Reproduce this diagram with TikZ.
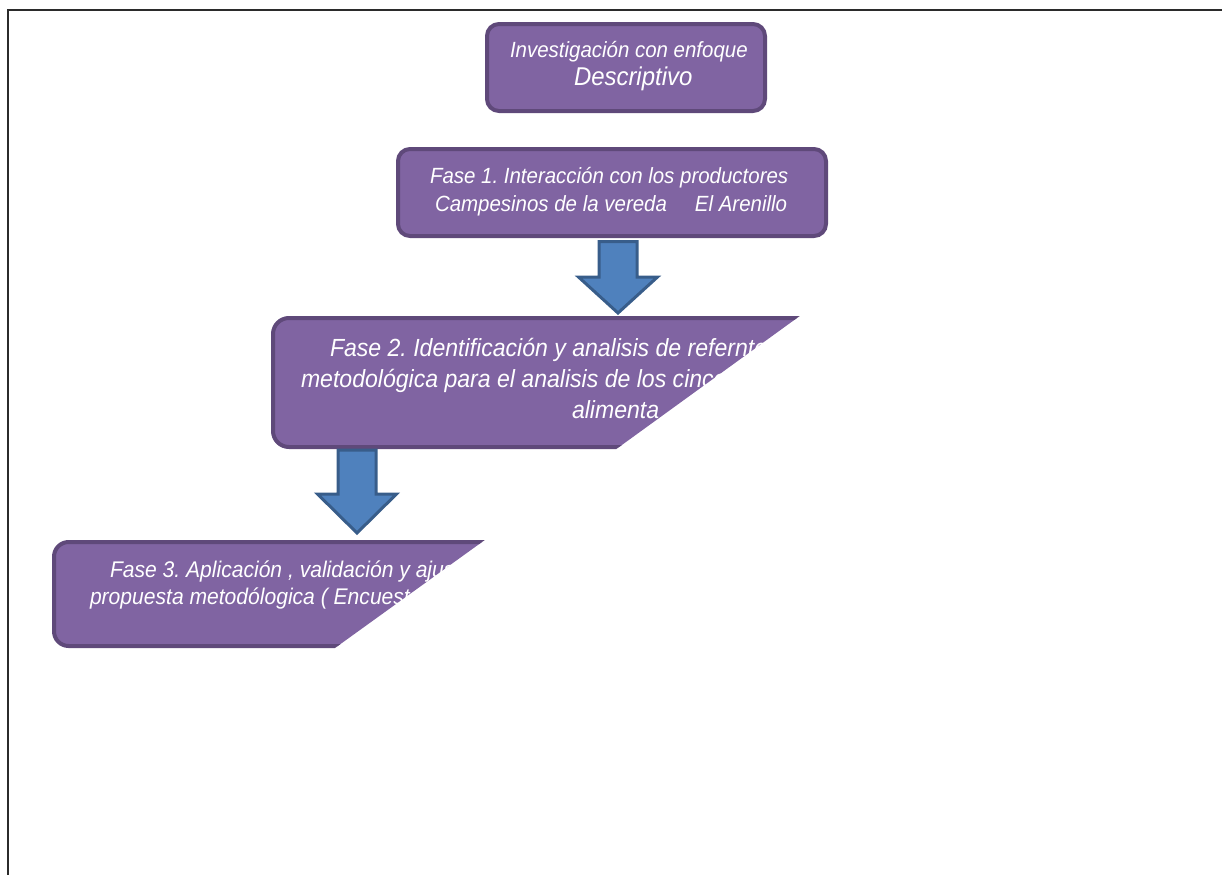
\documentclass[tikz,border=0pt]{standalone}
\usepackage{fontspec}
\setmainfont[FakeStretch=0.93]{Liberation Sans}
\usetikzlibrary{calc}
\definecolor{boxfill}{HTML}{8064A2}
\definecolor{boxline}{HTML}{5F497A}
\definecolor{arrfill}{HTML}{4F81BD}
\definecolor{arrline}{HTML}{385D8A}
\definecolor{framecol}{HTML}{2B2B2B}
\tikzset{
  phasebox/.style={draw=boxline, fill=boxfill, line width=3pt, inner sep=0pt, outer sep=0pt},
  phasetxt/.style={anchor=base west, text=white, inner sep=0pt, outer sep=0pt},
  blockarrow/.style={draw=arrline, fill=arrfill, line width=2.25pt, line join=miter},
  frameline/.style={draw=framecol, line width=1.5pt}
}
\newcommand{\fsA}{\frenchspacing\itshape\fontsize{16.5pt}{19pt}\selectfont}
\newcommand{\fsB}{\frenchspacing\itshape\fontsize{19.3pt}{22pt}\selectfont}
\newcommand{\fsC}{\frenchspacing\itshape\fontsize{18.6pt}{21pt}\selectfont}
\newcommand{\fsD}{\frenchspacing\itshape\fontsize{17pt}{20pt}\selectfont}
\begin{document}
\begin{tikzpicture}[x=0.75pt,y=-0.75pt]
\useasboundingbox (0,0) rectangle (1222,875);
\draw[frameline] (8,875) -- (8,10) -- (1222,10);

% Box 1
\node[phasebox, rounded corners=9pt, minimum width=208.5pt, minimum height=65.25pt] (b1) at (626,67.5) {};
\node[phasetxt, font=\fsA] (t1a) at (510,57) {Investigación con enfoque};
\node[phasetxt, font=\fsB] (t1b) at (574,85) {Descriptivo};

% Box 2
\node[phasebox, rounded corners=9pt, minimum width=321pt, minimum height=65.25pt] (b2) at (612,192.5) {};
\node[phasetxt, font=\fsA] (t2a) at (430,183) {Fase 1. Interacción con los productores};
\node[phasetxt, font=\fsA] (t2b) at (435,211) {Campesinos de la vereda\hspace{21pt}El Arenillo};

% Box 3 (cut)
\begin{scope}
\clip (0,300) -- (821.8,300) -- (587.4,470) -- (0,470) -- cycle;
\node[phasebox, rounded corners=12pt, minimum width=545.25pt, minimum height=96.75pt] (b3) at (636.5,382.5) {};
\node[phasetxt, font=\fsC] (t3a) at (330,356) {Fase 2. Identificación y analisis de referntes};
\node[phasetxt, font=\fsC] (t3b) at (301,387) {metodológica para el analisis de los cinco};
\node[phasetxt, font=\fsC] (t3c) at (572,418) {alimenta};
\end{scope}

% Box 4 (cut)
\begin{scope}
\clip (0,525) -- (505.6,525) -- (311.4,665) -- (0,665) -- cycle;
\node[phasebox, rounded corners=11pt, minimum width=484.5pt, minimum height=78pt] (b4) at (377,594) {};
\node[phasetxt, font=\fsD] (t4a) at (110,577) {Fase 3. Aplicación , validación y ajus};
\node[phasetxt, font=\fsD] (t4b) at (90,604) {propuesta metodólogica ( Encuest};
\end{scope}

% Arrow 1: b2 -> b3
\coordinate (a1s) at (618,241.5);
\coordinate (a1e) at (618,313);
\draw[blockarrow] ($(a1s)+(-19,0)$) -- ($(a1s)+(19,0)$) -- ($(a1e)+(19,-36)$) -- ($(a1e)+(39.5,-36)$) -- (a1e) -- ($(a1e)+(-39.5,-36)$) -- ($(a1e)+(-19,-36)$) -- cycle;

% Arrow 2: b3 -> b4
\coordinate (a2s) at (357,450);
\coordinate (a2e) at (357,533);
\draw[blockarrow] ($(a2s)+(-19,0)$) -- ($(a2s)+(19,0)$) -- ($(a2e)+(19,-39)$) -- ($(a2e)+(39.5,-39)$) -- (a2e) -- ($(a2e)+(-39.5,-39)$) -- ($(a2e)+(-19,-39)$) -- cycle;
\end{tikzpicture}
\end{document}
